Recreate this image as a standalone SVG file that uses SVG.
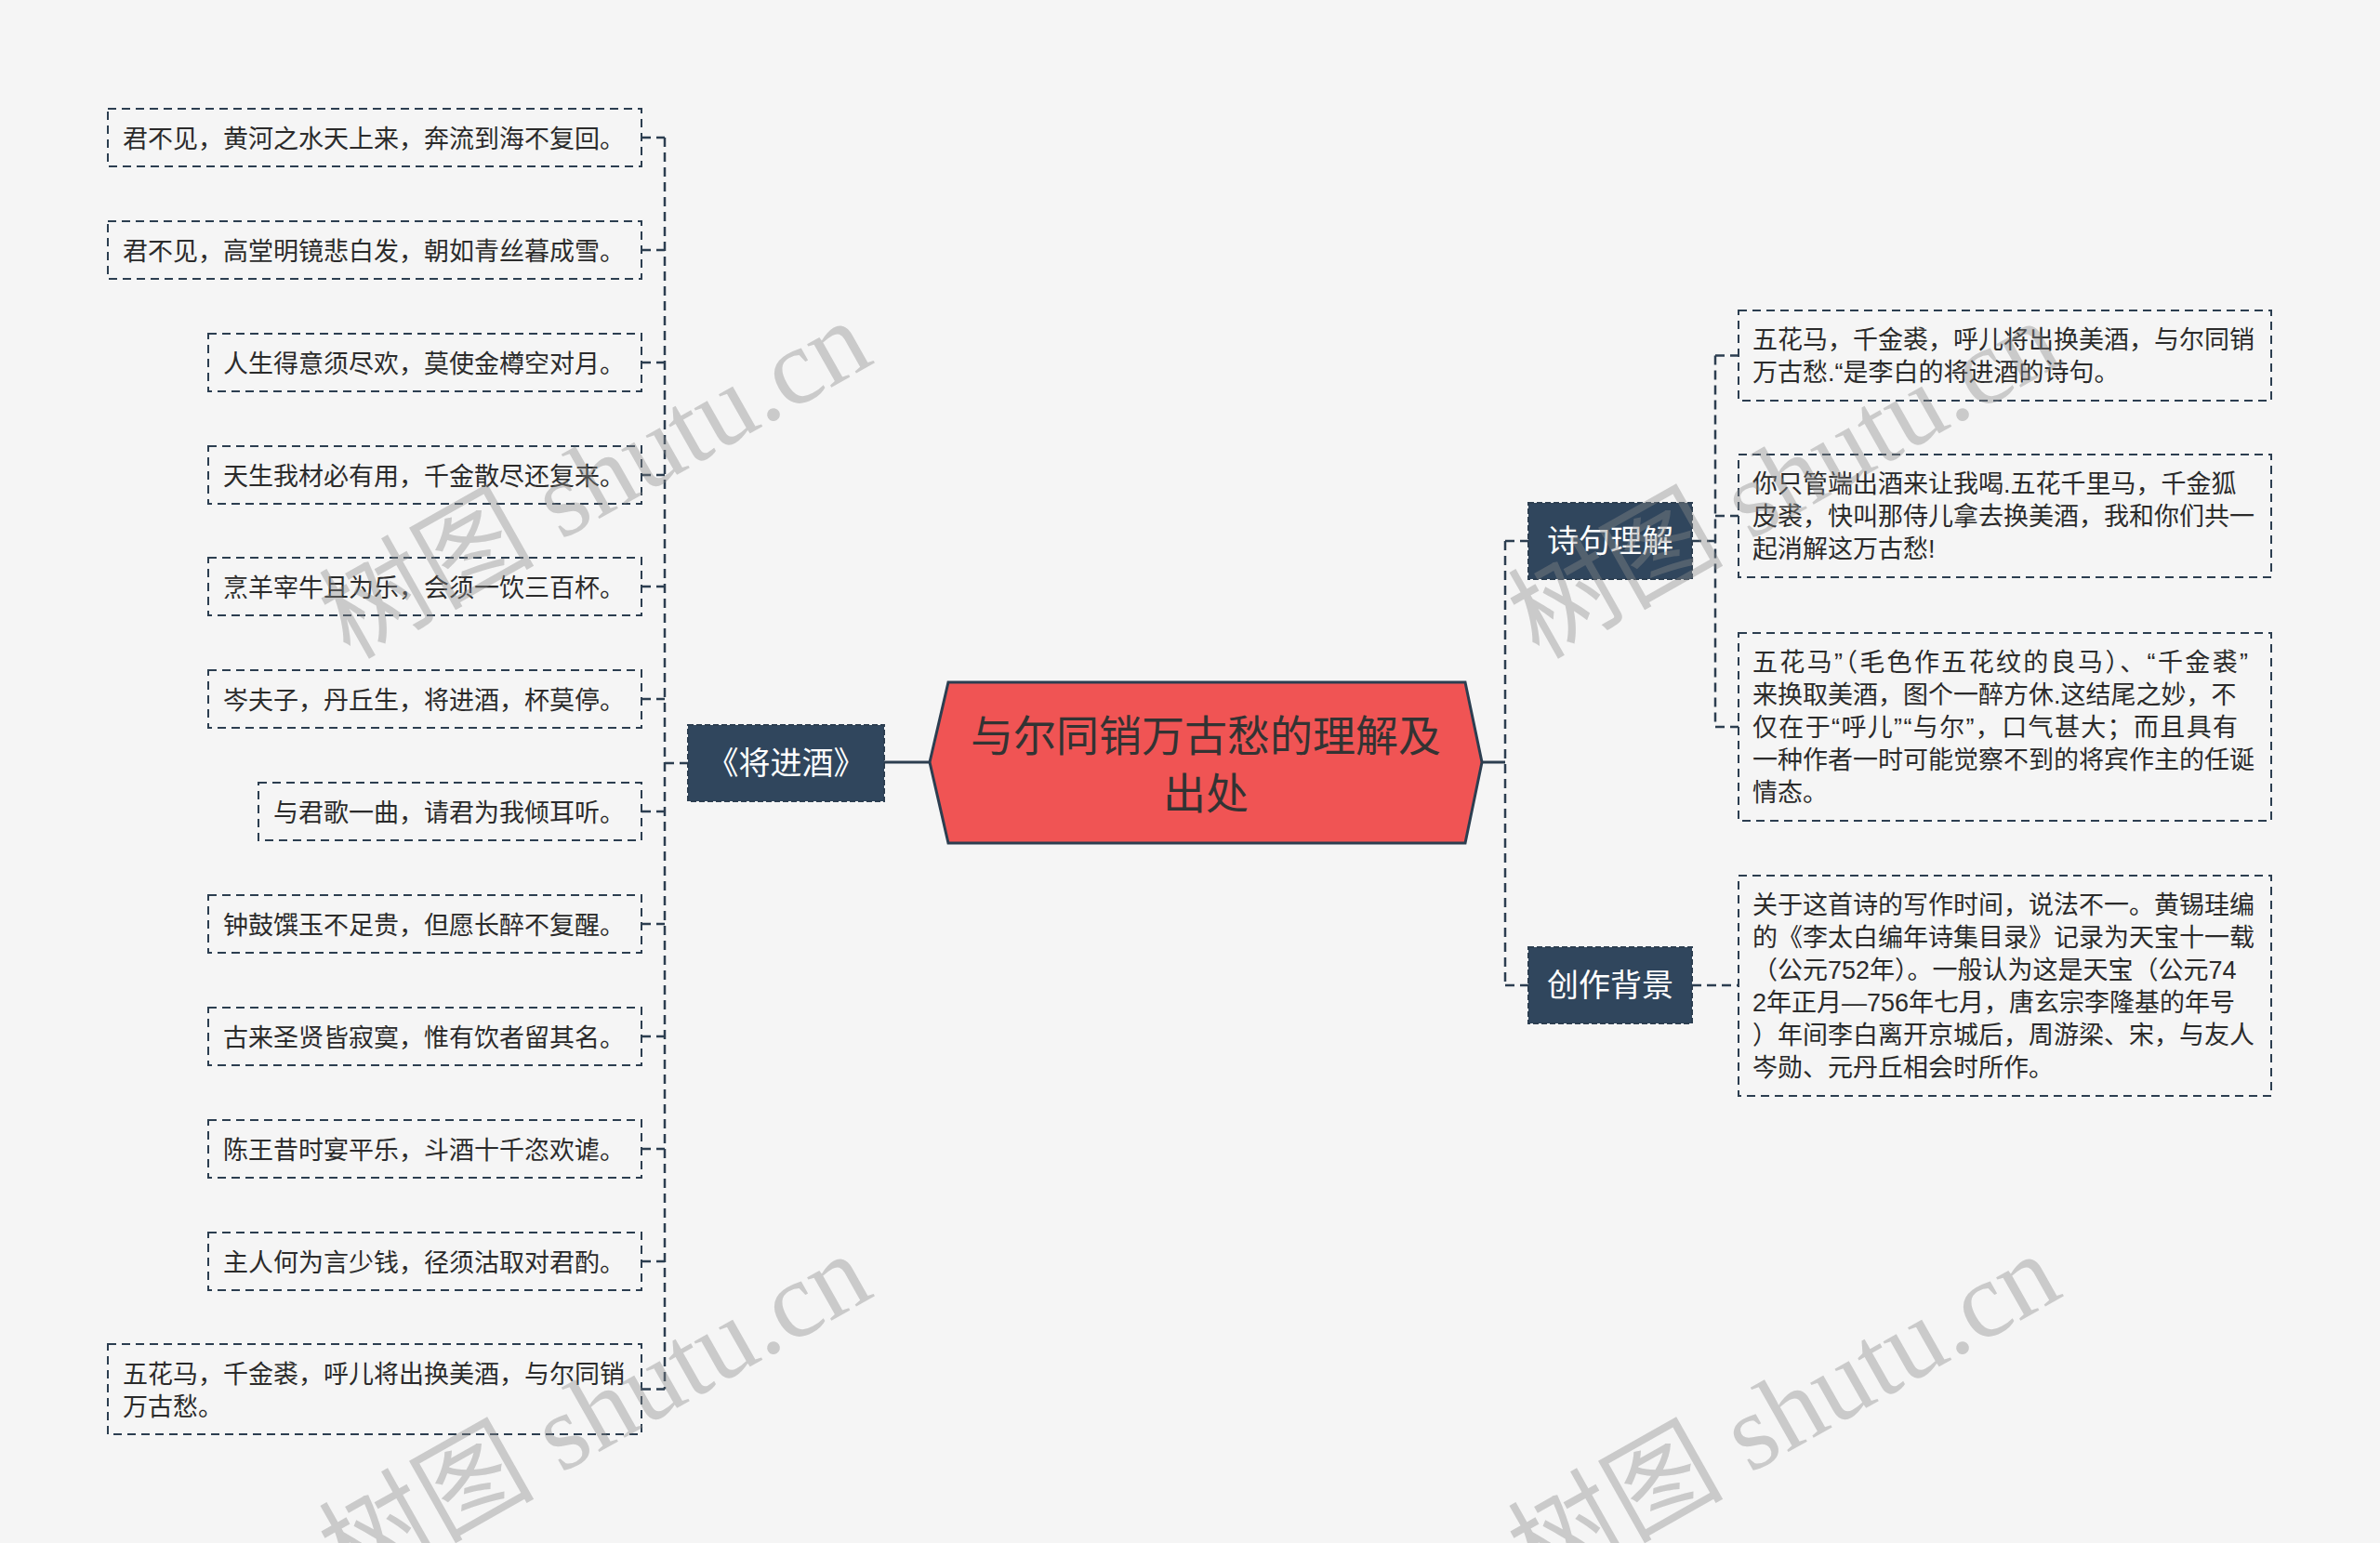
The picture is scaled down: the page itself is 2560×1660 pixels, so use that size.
<svg xmlns="http://www.w3.org/2000/svg" width="2560" height="1660" viewBox="0 0 2560 1660">
<style>
.bg{fill:#f5f5f5}
.box{fill:none;stroke:#2c3e50;stroke-width:2;stroke-dasharray:9 6}
.t{font-family:"Liberation Sans","Noto Sans CJK SC",sans-serif;font-size:27px;fill:#2b2b2b}
.conn{fill:none;stroke:#2c3e50;stroke-width:2.5;stroke-dasharray:10 6}
.solid{fill:none;stroke:#2c3e50;stroke-width:3}
.sub{fill:#30465d;stroke:#2c3e50;stroke-width:2;stroke-dasharray:6 3}
.subt{font-family:"Liberation Sans","Noto Sans CJK SC",sans-serif;font-size:34px;fill:#ffffff;text-anchor:middle}
.root{fill:#f05454;stroke:#2c3e50;stroke-width:3}
.roott{font-family:"Liberation Sans","Noto Sans CJK SC",sans-serif;font-size:46px;fill:#333333;text-anchor:middle}
.wm{font-family:"Liberation Serif","Noto Sans CJK SC",serif;font-size:116px;fill:#8a8a8a;fill-opacity:0.4}
</style>
<rect class="bg" x="0" y="0" width="2560" height="1660"/>

<g id="connectors">
  <path class="conn" d="M715 148 V1494.5 M690 148 H715 M690 269 H715 M690 390 H715 M690 511 H715 M690 631 H715 M690 752 H715 M690 873 H715 M690 994 H715 M690 1115 H715 M690 1236 H715 M690 1357 H715 M690 1494.5 H715 M715 821 H740"/>
  <path class="solid" d="M951 820 H1000 M1594 820 H1619"/>
  <path class="conn" d="M1619 582 V1060 M1619 582 H1644 M1619 1060 H1644"/>
  <path class="conn" d="M1820 582 H1845 M1845 382.5 V782 M1845 382.5 H1870 M1845 555 H1870 M1845 782 H1870"/>
  <path class="conn" d="M1820 1060 H1870"/>
</g>

<g id="root">
  <polygon class="root" points="1000,820 1020,734 1576,734 1594,820 1576,907 1020,907"/>
  <text class="roott" x="1297" y="808">与尔同销万古愁的理解及</text>
  <text class="roott" x="1297" y="870">出处</text>
</g>

<g id="jiangjinjiu">
  <rect class="sub" x="740" y="780" width="211" height="82"/>
  <text class="subt" x="845.5" y="833">《将进酒》</text>
</g>
<g id="shijulijie">
  <rect class="sub" x="1644" y="541" width="176" height="82"/>
  <text class="subt" x="1732" y="594">诗句理解</text>
</g>
<g id="chuangzuobeijing">
  <rect class="sub" x="1644" y="1019" width="176" height="82"/>
  <text class="subt" x="1732" y="1072">创作背景</text>
</g>

<g id="l1"><rect class="box" x="116" y="117" width="574" height="62"/><text class="t" x="132" y="159">君不见，黄河之水天上来，奔流到海不复回。</text></g>
<g id="l2"><rect class="box" x="116" y="238" width="574" height="62"/><text class="t" x="132" y="280">君不见，高堂明镜悲白发，朝如青丝暮成雪。</text></g>
<g id="l3"><rect class="box" x="224" y="359" width="466" height="62"/><text class="t" x="240" y="401">人生得意须尽欢，莫使金樽空对月。</text></g>
<g id="l4"><rect class="box" x="224" y="480" width="466" height="62"/><text class="t" x="240" y="522">天生我材必有用，千金散尽还复来。</text></g>
<g id="l5"><rect class="box" x="224" y="600" width="466" height="62"/><text class="t" x="240" y="642">烹羊宰牛且为乐，会须一饮三百杯。</text></g>
<g id="l6"><rect class="box" x="224" y="721" width="466" height="62"/><text class="t" x="240" y="763">岑夫子，丹丘生，将进酒，杯莫停。</text></g>
<g id="l7"><rect class="box" x="278" y="842" width="412" height="62"/><text class="t" x="294" y="884">与君歌一曲，请君为我倾耳听。</text></g>
<g id="l8"><rect class="box" x="224" y="963" width="466" height="62"/><text class="t" x="240" y="1005">钟鼓馔玉不足贵，但愿长醉不复醒。</text></g>
<g id="l9"><rect class="box" x="224" y="1084" width="466" height="62"/><text class="t" x="240" y="1126">古来圣贤皆寂寞，惟有饮者留其名。</text></g>
<g id="l10"><rect class="box" x="224" y="1205" width="466" height="62"/><text class="t" x="240" y="1247">陈王昔时宴平乐，斗酒十千恣欢谑。</text></g>
<g id="l11"><rect class="box" x="224" y="1326" width="466" height="62"/><text class="t" x="240" y="1368">主人何为言少钱，径须沽取对君酌。</text></g>
<g id="l12"><rect class="box" x="116" y="1446" width="574" height="97"/><text class="t" x="132" y="1488">五花马，千金裘，呼儿将出换美酒，与尔同销</text><text class="t" x="132" y="1523">万古愁。</text></g>

<g id="r1"><rect class="box" x="1870" y="334" width="573" height="97"/>
  <text class="t" x="1885" y="375">五花马，千金裘，呼儿将出换美酒，与尔同销</text>
  <text class="t" x="1885" y="410">万古愁.“是李白的将进酒的诗句。</text></g>
<g id="r2"><rect class="box" x="1870" y="489" width="573" height="132"/>
  <text class="t" x="1885" y="530">你只管端出酒来让我喝.五花千里马，千金狐</text>
  <text class="t" x="1885" y="565">皮裘，快叫那侍儿拿去换美酒，我和你们共一</text>
  <text class="t" x="1885" y="600">起消解这万古愁!</text></g>
<g id="r3"><rect class="box" x="1870" y="681" width="573" height="202"/>
  <text class="t" x="1885" y="722" textLength="533" lengthAdjust="spacing">五花马”（毛色作五花纹的良马）、“千金裘”</text>
  <text class="t" x="1885" y="757">来换取美酒，图个一醉方休.这结尾之妙，不</text>
  <text class="t" x="1885" y="792" textLength="522" lengthAdjust="spacing">仅在于“呼儿”“与尔”，口气甚大；而且具有</text>
  <text class="t" x="1885" y="827">一种作者一时可能觉察不到的将宾作主的任诞</text>
  <text class="t" x="1885" y="862">情态。</text></g>
<g id="r4"><rect class="box" x="1870" y="942" width="573" height="237"/>
  <text class="t" x="1885" y="983">关于这首诗的写作时间，说法不一。黄锡珪编</text>
  <text class="t" x="1885" y="1018">的《李太白编年诗集目录》记录为天宝十一载</text>
  <text class="t" x="1885" y="1053">（公元752年）。一般认为这是天宝（公元74</text>
  <text class="t" x="1885" y="1088">2年正月—756年七月，唐玄宗李隆基的年号</text>
  <text class="t" x="1885" y="1123">）年间李白离开京城后，周游梁、宋，与友人</text>
  <text class="t" x="1885" y="1158">岑勋、元丹丘相会时所作。</text></g>

<g id="watermarks">
  <text class="wm" transform="translate(376 710) rotate(-29.5)">树图 shutu.cn</text>
  <text class="wm" transform="translate(1655 710) rotate(-29.5)">树图 shutu.cn</text>
  <text class="wm" transform="translate(376 1714) rotate(-29.5)">树图 shutu.cn</text>
  <text class="wm" transform="translate(1655 1714) rotate(-29.5)">树图 shutu.cn</text>
</g>
</svg>
